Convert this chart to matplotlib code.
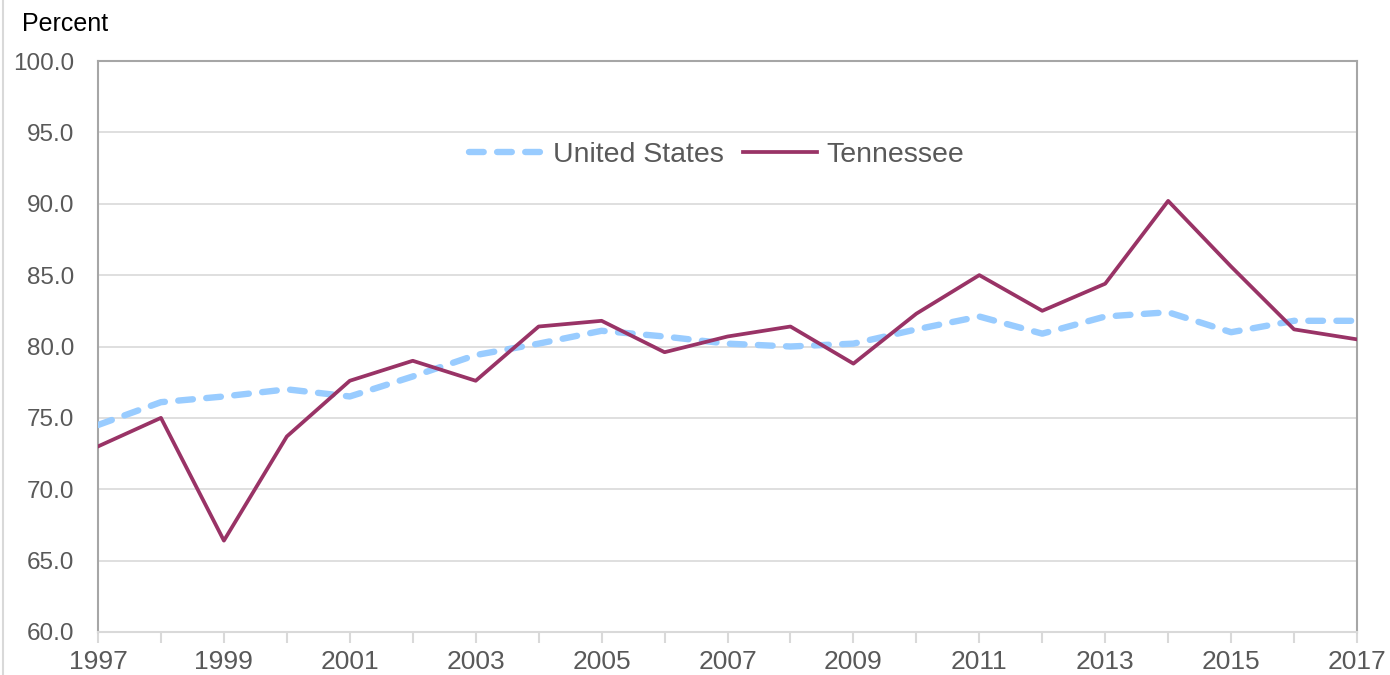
import matplotlib
matplotlib.use("Agg")
import matplotlib.pyplot as plt
from matplotlib.lines import Line2D

years = list(range(1997, 2018))
us = [74.5, 76.1, 76.5, 77.0, 76.5, 77.9, 79.4, 80.2, 81.1, 80.7, 80.2,
      80.0, 80.2, 81.2, 82.1, 80.9, 82.1, 82.4, 81.0, 81.8, 81.8]
tn = [73.0, 75.0, 66.4, 73.7, 77.6, 79.0, 77.6, 81.4, 81.8, 79.6, 80.7,
      81.4, 78.8, 82.3, 85.0, 82.5, 84.4, 90.2, 85.6, 81.2, 80.5]
yticks = [60, 65, 70, 75, 80, 85, 90, 95, 100]
xlabels = [y for y in years if (y - 1997) % 2 == 0]

plt.rcParams['font.family'] = ['Liberation Sans', 'DejaVu Sans']
fig = plt.figure(figsize=(13.9, 6.75), dpi=100)
ax = fig.add_axes([98/1390, 43/675, (1357-98)/1390, (632-61)/675])

ax.plot(years, us, color='#99CCFF', lw=4.6, dashes=(2.3, 2.1), label='United States',
        solid_capstyle='round', dash_capstyle='round', zorder=3)
ax.plot(years, tn, color='#993366', lw=2.7, label='Tennessee', zorder=4)

ax.set_xlim(1997, 2017)
ax.set_ylim(60, 100)
ax.set_yticks(yticks)
ax.set_yticklabels([f"{v:.1f}" for v in yticks])
ax.set_xticks(years)
ax.set_xticklabels([str(y) if y in xlabels else '' for y in years])
ax.grid(axis='y', color='#D9D9D9', lw=1.2)
ax.set_axisbelow(True)
for s in ['left', 'right', 'top']:
    ax.spines[s].set_color('#A6A6A6')
    ax.spines[s].set_linewidth(1.5)
ax.spines['bottom'].set_color('#D9D9D9')
ax.spines['bottom'].set_linewidth(1.5)
ax.tick_params(axis='x', direction='out', length=8, color='#D9D9D9', width=1.5,
               labelsize=19, labelcolor='#595959', pad=5)
ax.tick_params(axis='y', length=0, labelsize=17.5, labelcolor='#595959', pad=17)

fig.text(22/1390, 1 - 24/675, 'Percent', fontsize=18, color='black', va='center', ha='left')
fig.add_artist(Line2D([2.5/1390, 2.5/1390], [0, 1], color='#D9D9D9', lw=1.5))

leg = ax.legend(loc='center', bbox_to_anchor=((717-98)/(1357-98), 1 - (155-61)/(632-61)),
                ncol=2, frameon=False, fontsize=20.5, handlelength=2.6, columnspacing=0.65,
                handletextpad=0.35)
for t in leg.get_texts():
    t.set_color('#595959')

fig.savefig('out.png', dpi=100)
